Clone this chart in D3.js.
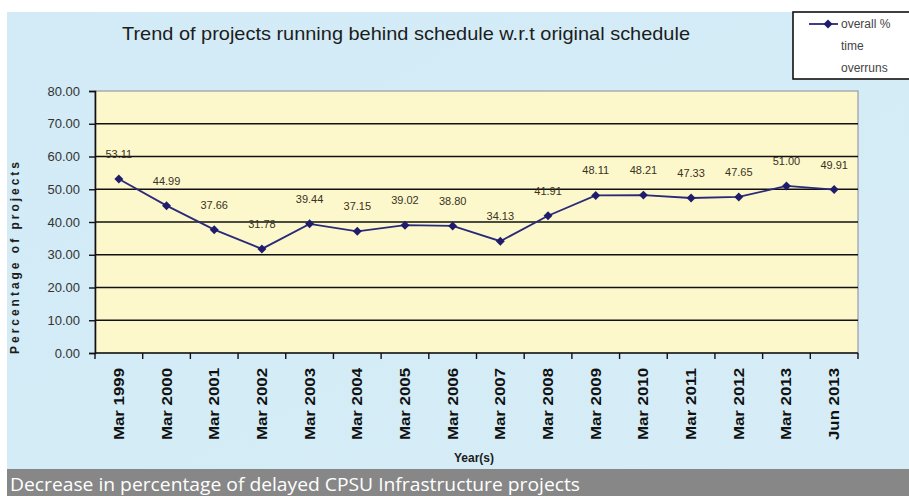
<!DOCTYPE html>
<html>
<head>
<meta charset="utf-8">
<script src="https://cdn.jsdelivr.net/npm/d3@7"></script>
<style>
  body { margin: 0; background: #fff; }
  svg { display: block; }
</style>
</head>
<body>
<div id="chart"></div>
<script>
(function(){
  'use strict';

  //Chart data
  let categories = ["Mar 1999", "Mar 2000", "Mar 2001", "Mar 2002", "Mar 2003", "Mar 2004", "Mar 2005", "Mar 2006",
    "Mar 2007", "Mar 2008", "Mar 2009", "Mar 2010", "Mar 2011", "Mar 2012", "Mar 2013", "Jun 2013"];
  let overrunValues = [53.11, 44.99, 37.66, 31.78, 39.44, 37.15, 39.02, 38.80, 34.13, 41.91, 48.11, 48.21, 47.33, 47.65, 51.00, 49.91];
  let yTicks = [0, 10, 20, 30, 40, 50, 60, 70, 80];
  let legendLines = ["overall %", "time", "overruns"];

  let width = 909, height = 496;
  let plot = {left: 95, right: 858, top: 91, bottom: 353};

  let svg = d3.select("#chart").append("svg")
    .attr("width", width)
    .attr("height", height);

  //Light blue chart background
  let defs = svg.append("defs");
  let grad = defs.append("linearGradient")
    .attr("id", "bg")
    .attr("x1", 0).attr("y1", 0).attr("x2", 1).attr("y2", 1);
  grad.append("stop").attr("offset", "0%").attr("stop-color", "#d2ebf6");
  grad.append("stop").attr("offset", "100%").attr("stop-color", "#d6edf7");

  svg.append("rect")
    .attr("x", 7).attr("y", 12)
    .attr("width", width - 7).attr("height", 469 - 12)
    .attr("fill", "url(#bg)");

  //Scales
  let x = d3.scaleBand()
    .domain(categories)
    .range([plot.left, plot.right]);
  let y = d3.scaleLinear()
    .domain([0, 80])
    .range([plot.bottom, plot.top]);

  //Plot area
  svg.append("rect")
    .attr("x", plot.left).attr("y", plot.top)
    .attr("width", plot.right - plot.left).attr("height", plot.bottom - plot.top)
    .attr("fill", "#fcf8cc")
    .attr("stroke", "#9a9aa8")
    .attr("stroke-width", 1.2);

  //Gridlines (top one is the border)
  svg.selectAll(".grid")
    .data(yTicks.filter(function(d) { return d > 0 && d < 80; }))
    .enter()
    .append("line")
      .attr("class", "grid")
      .attr("x1", plot.left).attr("x2", plot.right)
      .attr("y1", function(d) { return y(d); })
      .attr("y2", function(d) { return y(d); })
      .attr("stroke", "#111")
      .attr("stroke-width", 1.6);

  //Y axis
  let yAxis = svg.append("g")
    .attr("transform", "translate(" + plot.left + ",0)")
    .call(d3.axisLeft(y).tickValues(yTicks).tickFormat(d3.format(".2f")).tickSize(6).tickPadding(9));
  yAxis.select(".domain").attr("stroke", "#111").attr("stroke-width", 1.6);
  yAxis.selectAll(".tick line").attr("stroke", "#111").attr("stroke-width", 1.4);
  yAxis.selectAll(".tick text")
    .attr("fill", "#333")
    .style("font-family", "'Liberation Sans Narrow', 'Liberation Sans', Arial, sans-serif")
    .style("font-size", "13px");

  //X axis with ticks on band edges
  let xAxis = svg.append("g")
    .attr("transform", "translate(0," + plot.bottom + ")");
  xAxis.append("line")
    .attr("x1", plot.left).attr("x2", plot.right)
    .attr("stroke", "#111").attr("stroke-width", 1.6);
  xAxis.selectAll(".xtick")
    .data(categories)
    .enter()
    .append("line")
      .attr("class", "xtick")
      .attr("x1", function(d) { return x(d) + x.bandwidth(); })
      .attr("x2", function(d) { return x(d) + x.bandwidth(); })
      .attr("y1", 0).attr("y2", 6)
      .attr("stroke", "#111").attr("stroke-width", 1.4);
  xAxis.append("line")
    .attr("x1", plot.left).attr("x2", plot.left)
    .attr("y1", 0).attr("y2", 6)
    .attr("stroke", "#111").attr("stroke-width", 1.4);

  xAxis.selectAll(".xlabel")
    .data(categories)
    .enter()
    .append("text")
      .attr("class", "xlabel")
      .attr("transform", function(d) {
        return "translate(" + (x(d) + x.bandwidth() / 2 + 5) + ",15) rotate(-90)";
      })
      .attr("text-anchor", "end")
      .attr("textLength", 72)
      .attr("lengthAdjust", "spacingAndGlyphs")
      .attr("fill", "#111")
      .style("font-family", "'Liberation Sans', Arial, sans-serif")
      .style("font-weight", "bold")
      .style("font-size", "14px")
      .text(function(d) { return d; });

  //Series line
  let line = d3.line()
    .x(function(d, i) { return x(categories[i]) + x.bandwidth() / 2; })
    .y(function(d) { return y(d); });

  svg.append("path")
    .datum(overrunValues)
    .attr("fill", "none")
    .attr("stroke", "#2b2a78")
    .attr("stroke-width", 1.8)
    .attr("d", line);

  //Diamond markers (rotated squares)
  let diamond = d3.symbol().type(d3.symbolSquare).size(40);
  svg.selectAll(".marker")
    .data(overrunValues)
    .enter()
    .append("path")
      .attr("class", "marker")
      .attr("transform", function(d, i) {
        return "translate(" + (x(categories[i]) + x.bandwidth() / 2) + "," + y(d) + ") rotate(45)";
      })
      .attr("d", diamond)
      .attr("fill", "#1f1c6c");

  //Data labels
  svg.selectAll(".dlabel")
    .data(overrunValues)
    .enter()
    .append("text")
      .attr("class", "dlabel")
      .attr("x", function(d, i) { return x(categories[i]) + x.bandwidth() / 2; })
      .attr("y", function(d) { return y(d) - 21; })
      .attr("text-anchor", "middle")
      .attr("fill", "#3a3222")
      .style("font-family", "'Liberation Sans', Arial, sans-serif")
      .style("font-size", "11px")
      .text(function(d) { return d.toFixed(2); });

  //Title
  svg.append("text")
    .attr("x", 406).attr("y", 40)
    .attr("text-anchor", "middle")
    .attr("textLength", 568)
    .attr("lengthAdjust", "spacingAndGlyphs")
    .attr("fill", "#1c1c1c")
    .style("font-family", "'Liberation Sans', Arial, sans-serif")
    .style("font-size", "19px")
    .text("Trend of projects running behind schedule w.r.t original schedule");

  //Axis titles
  svg.append("text")
    .attr("transform", "translate(19,258) rotate(-90)")
    .attr("text-anchor", "middle")
    .attr("textLength", 192)
    .attr("lengthAdjust", "spacing")
    .attr("fill", "#1c1c1c")
    .style("font-family", "'Liberation Sans', Arial, sans-serif")
    .style("font-weight", "bold")
    .style("font-size", "12px")
    .text("Percentage of projects");

  svg.append("text")
    .attr("x", 474).attr("y", 462)
    .attr("text-anchor", "middle")
    .attr("fill", "#1c1c1c")
    .style("font-family", "'Liberation Sans', Arial, sans-serif")
    .style("font-weight", "bold")
    .style("font-size", "12px")
    .text("Year(s)");

  //Legend box
  let legend = svg.append("g");
  legend.append("rect")
    .attr("x", 793).attr("y", 12)
    .attr("width", 130).attr("height", 67)
    .attr("fill", "#fff")
    .attr("stroke", "#111")
    .attr("stroke-width", 1.6);
  legend.append("line")
    .attr("x1", 809).attr("x2", 838)
    .attr("y1", 24).attr("y2", 24)
    .attr("stroke", "#2b2a78").attr("stroke-width", 1.8);
  legend.append("path")
    .attr("transform", "translate(828,24) rotate(45)")
    .attr("d", diamond)
    .attr("fill", "#1f1c6c");
  legend.selectAll(".ltext")
    .data(legendLines)
    .enter()
    .append("text")
      .attr("class", "ltext")
      .attr("x", 841)
      .attr("y", function(d, i) { return 28 + i * 22; })
      .attr("fill", "#444")
      .style("font-family", "'Liberation Sans Narrow', 'Liberation Sans', Arial, sans-serif")
      .style("font-size", "12px")
      .text(function(d) { return d; });

  //Caption bar
  svg.append("rect")
    .attr("x", 7).attr("y", 469)
    .attr("width", width - 7).attr("height", height - 469)
    .attr("fill", "#878787");
  svg.append("text")
    .attr("x", 10).attr("y", 491)
    .attr("textLength", 570)
    .attr("lengthAdjust", "spacingAndGlyphs")
    .attr("fill", "#fff")
    .style("font-family", "'Open Sans', 'Noto Sans', sans-serif")
    .style("font-size", "19px")
    .text("Decrease in percentage of delayed CPSU Infrastructure projects");

})();
</script>
</body>
</html>
